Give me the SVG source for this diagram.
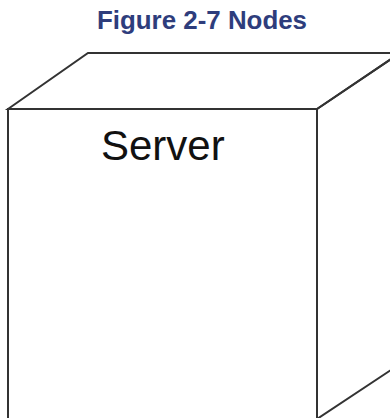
<svg xmlns="http://www.w3.org/2000/svg" width="390" height="418" viewBox="0 0 390 418">
<style>
.edge{fill:none;stroke:#333;stroke-width:2;stroke-linejoin:miter}
.title{font-family:"Liberation Sans",Arial,sans-serif;font-weight:bold;font-size:25px;fill:#2E3D7C}
.label{font-family:"Liberation Sans",Arial,sans-serif;font-size:42px;fill:#111}
</style>
<rect width="390" height="418" fill="#fff"/>
<text class="title" x="202" y="29" text-anchor="middle" textLength="210" lengthAdjust="spacingAndGlyphs">Figure 2-7 Nodes</text>
<g id="node-server">
<polygon points="8,109 88,53 400,53 317,109" fill="#fff" class="edge"/>
<polygon points="317,109 400,53 400,364 317,419" fill="#fff" class="edge"/>
<rect x="8" y="109" width="309" height="330" fill="#fff" class="edge"/>
<text class="label" x="101" y="160">Server</text>
</g>
<g id="connectors"></g>
</svg>
